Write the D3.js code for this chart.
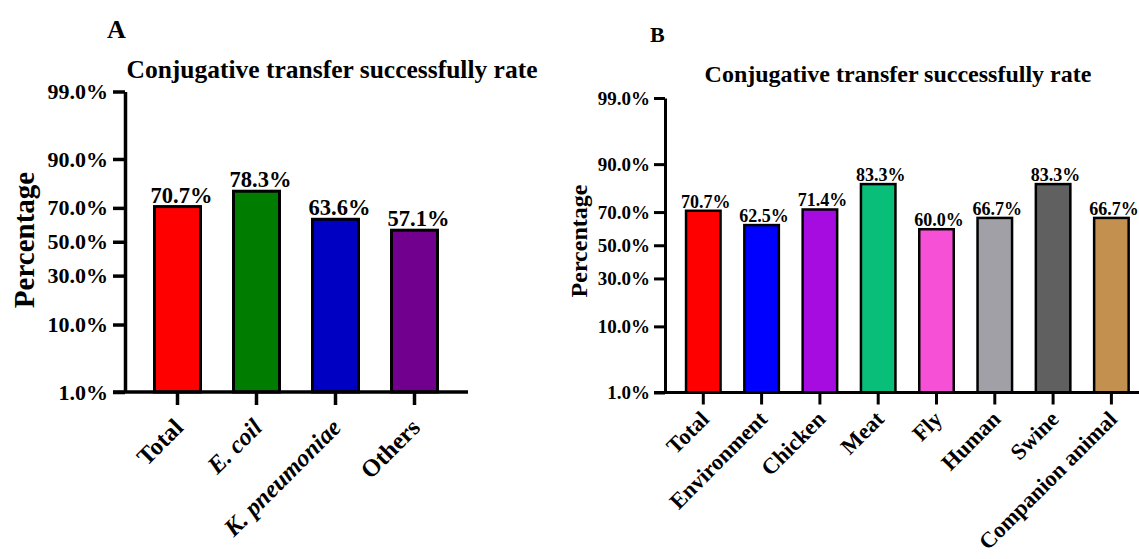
<!DOCTYPE html>
<html>
<head>
<meta charset="utf-8">
<script src="https://cdn.jsdelivr.net/npm/d3@7"></script>
<style>
    body { margin: 0; background: #fff; }
    svg { font-family: "Liberation Serif", "Times New Roman", serif; font-weight: bold; }
</style>
</head>
<body>
<div id="chart"></div>
<script>
// Data
var percentTicks = [1, 10, 30, 50, 70, 90, 99];

var speciesNames = ["Total", "E. coil", "K. pneumoniae", "Others"];
var speciesRates = [70.7, 78.3, 63.6, 57.1];
var speciesColors = ["#ff0000", "#007c00", "#0000c2", "#72008f"];
var speciesItalic = [false, true, true, false];

var sourceNames = ["Total", "Environment", "Chicken", "Meat", "Fly", "Human", "Swine", "Companion animal"];
var sourceRates = [70.7, 62.5, 71.4, 83.3, 60.0, 66.7, 83.3, 66.7];
var sourceColors = ["#ff0000", "#0000ff", "#a60ce0", "#08be78", "#f650d6", "#a0a0a6", "#606060", "#c4904f"];

// Inverse normal cdf (Acklam), Prism's probability axis is a probit scale
function probit(p) {
    var a = [-39.69683028665376, 220.9460984245205, -275.9285104469687, 138.3577518672690, -30.66479806614716, 2.506628277459239];
    var b = [-54.47609879822406, 161.5858368580409, -155.6989798598866, 66.80131188771972, -13.28068155922803];
    var c = [-0.007784894002430293, -0.3223964580411365, -2.400758277161838, -2.549732539343734, 4.374664141464968, 2.938163982698783];
    var d = [0.007784695709041462, 0.3224671290700398, 2.445134137624568, 3.754408661907416];
    var q, r;
    if (p < 0.02425) {
        q = Math.sqrt(-2 * Math.log(p));
        return (((((c[0] * q + c[1]) * q + c[2]) * q + c[3]) * q + c[4]) * q + c[5]) /
            ((((d[0] * q + d[1]) * q + d[2]) * q + d[3]) * q + 1);
    }
    if (p > 1 - 0.02425) {
        return -probit(1 - p);
    }
    q = p - 0.5;
    r = q * q;
    return (((((a[0] * r + a[1]) * r + a[2]) * r + a[3]) * r + a[4]) * r + a[5]) * q /
        (((((b[0] * r + b[1]) * r + b[2]) * r + b[3]) * r + b[4]) * r + 1);
}

var svg = d3.select("#chart")
    .append("svg")
    .attr("width", 1139)
    .attr("height", 559);

function drawPanel(opt) {
    var g = svg.append("g");

    // y: linear in probit units
    var y = d3.scaleLinear()
        .domain([probit(0.01), probit(0.99)])
        .range([opt.bottom, opt.top]);
    var yPct = v => y(probit(v / 100));

    var x = d3.scaleBand()
        .domain(opt.names)
        .range(opt.xRange)
        .paddingInner(opt.padIn)
        .paddingOuter(opt.padIn / 2);

    // Bars
    g.selectAll(".bar")
        .data(opt.rates)
        .enter()
        .append("rect")
        .attr("x", (d, i) => x(opt.names[i]))
        .attr("width", x.bandwidth())
        .attr("y", d => yPct(d))
        .attr("height", d => opt.bottom - yPct(d))
        .attr("fill", (d, i) => opt.colors[i])
        .attr("stroke", "#000")
        .attr("stroke-width", opt.barStroke);

    // Value labels
    g.selectAll(".val")
        .data(opt.rates)
        .enter()
        .append("text")
        .attr("x", (d, i) => x(opt.names[i]) + x.bandwidth() / 2 + opt.valDx)
        .attr("y", d => yPct(d) - opt.valGap)
        .attr("text-anchor", "middle")
        .attr("font-size", opt.valSize)
        .text(d => d.toFixed(1) + "%");

    // y axis
    var yAxis = g.append("g")
        .attr("transform", "translate(" + opt.left + ",0)")
        .call(d3.axisLeft(y)
            .tickValues(percentTicks.map(t => probit(t / 100)))
            .tickFormat((d, i) => percentTicks[i].toFixed(1) + "%")
            .tickSize(opt.tickLen)
            .tickSizeOuter(0)
            .tickPadding(opt.tickPad))
        .attr("font-family", null)
        .attr("font-size", opt.tickSize);
    yAxis.selectAll("path, line").attr("stroke", "#000").attr("stroke-width", opt.axisStroke);
    yAxis.selectAll("text").attr("fill", "#000");

    // x axis
    var xAxis = g.append("g")
        .attr("transform", "translate(0," + opt.bottom + ")")
        .call(d3.axisBottom(x).tickSize(opt.tickLen + 1).tickSizeOuter(0))
        .attr("font-family", null)
        .attr("font-size", opt.catSize);
    xAxis.select(".domain").remove();
    xAxis.selectAll("line").attr("stroke", "#000").attr("stroke-width", opt.axisStroke);
    xAxis.selectAll("text")
        .attr("fill", "#000")
        .attr("text-anchor", "end")
        .attr("dy", 0)
        .attr("y", 0)
        .attr("transform", "translate(" + opt.catDx + "," + opt.catDy + ") rotate(-45)")
        .attr("font-style", (d, i) => opt.italic && opt.italic[i] ? "italic" : null);

    g.append("line")
        .attr("x1", opt.left - opt.tickLen)
        .attr("x2", opt.axisEnd)
        .attr("y1", opt.bottom)
        .attr("y2", opt.bottom)
        .attr("stroke", "#000")
        .attr("stroke-width", opt.axisStroke);

    // Title, panel letter, y label
    g.append("text")
        .attr("x", opt.titleX)
        .attr("y", opt.titleY)
        .attr("text-anchor", "middle")
        .attr("font-size", opt.titleSize)
        .text("Conjugative transfer successfully rate");

    g.append("text")
        .attr("x", opt.letterX)
        .attr("y", opt.letterY)
        .attr("font-size", opt.letterSize)
        .text(opt.letter);

    g.append("text")
        .attr("transform", "translate(" + opt.ylabX + "," + opt.ylabY + ") rotate(-90)")
        .attr("text-anchor", "middle")
        .attr("font-size", opt.ylabSize)
        .text("Percentage");
}

drawPanel({
    names: speciesNames, rates: speciesRates, colors: speciesColors, italic: speciesItalic,
    left: 125, top: 91.5, bottom: 392, xRange: [138, 454], padIn: 0.418, axisEnd: 468,
    barStroke: 3, axisStroke: 3.5, tickLen: 12, tickPad: 5,
    tickSize: 22, valSize: 22.5, valGap: 4, valDx: 4, catSize: 24.5, catDx: 7, catDy: 37,
    titleX: 332, titleY: 78, titleSize: 25.5,
    letter: "A", letterX: 107, letterY: 38, letterSize: 26,
    ylabX: 34, ylabY: 240, ylabSize: 29
});

drawPanel({
    names: sourceNames, rates: sourceRates, colors: sourceColors,
    left: 665, top: 98, bottom: 392.5, xRange: [674.15, 1140.55], padIn: 0.408, axisEnd: 1145,
    barStroke: 2.5, axisStroke: 3, tickLen: 11, tickPad: 4,
    tickSize: 19, valSize: 18, valGap: 3, valDx: 2.5, catSize: 22.5, catDx: 7, catDy: 28,
    titleX: 898, titleY: 82, titleSize: 24,
    letter: "B", letterX: 650, letterY: 42, letterSize: 22,
    ylabX: 587, ylabY: 241, ylabSize: 24
});
</script>
</body>
</html>
